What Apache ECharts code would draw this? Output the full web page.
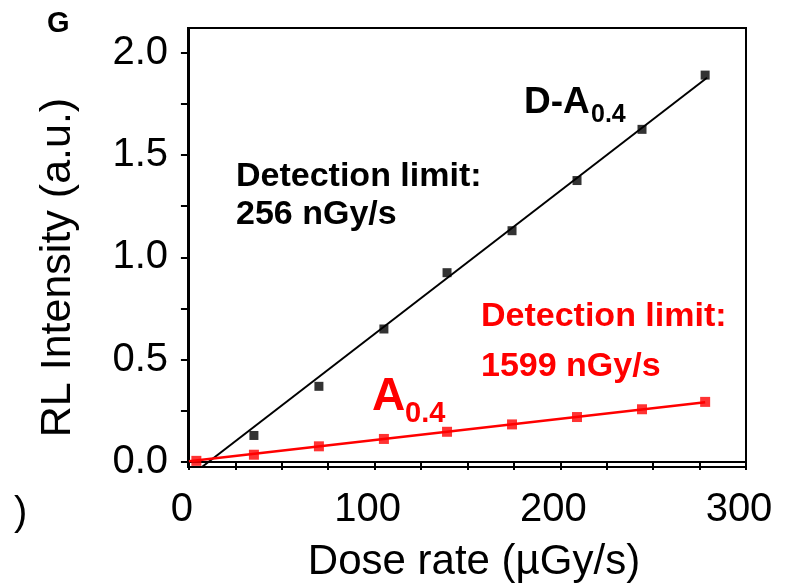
<!DOCTYPE html>
<html>
<head>
<meta charset="utf-8">
<script src="https://cdn.jsdelivr.net/npm/echarts@6/dist/echarts.min.js"></script>
<style>
  html, body { margin: 0; padding: 0; background: #fff; }
  #chart { width: 790px; height: 588px; }
</style>
</head>
<body>
<div id="chart"></div>
<script>
// D-A0.4 measured points
var doseBlack = [35, 70, 105, 139, 174, 209, 244, 278];
var rlBlack = [0.13, 0.37, 0.65, 0.925, 1.13, 1.375, 1.625, 1.89];
// A0.4 measured points
var doseRed = [4, 35, 70, 105, 139, 174, 209, 244, 278];
var rlRed = [0.006, 0.036, 0.077, 0.113, 0.148, 0.184, 0.22, 0.258, 0.294];
// linear fits (end points)
var fitBlackX = [7, 279];
var fitBlackY = [-0.024, 1.877];
var fitRedX = [0, 278];
var fitRedY = [0.004, 0.292];
// ticks
var xTicks = [0, 25, 50, 75, 100, 125, 150, 175, 200, 225, 250, 275, 300];
var xLabels = [0, 100, 200, 300];
var yTicks = [0, 0.25, 0.5, 0.75, 1.0, 1.25, 1.5, 1.75, 2.0];
var yLabels = [0, 0.5, 1.0, 1.5, 2.0];

function pairs(xs, ys) {
  var out = [];
  for (var i = 0; i < xs.length; i++) out.push([xs[i], ys[i]]);
  return out;
}

var FONT = "'Liberation Sans', Arial, sans-serif";
var RED = "#ff0000";

// small helper for the annotation texts
function label(text, x, y, size, color) {
  return {
    type: "text",
    x: x,
    y: y,
    style: {
      text: text,
      fontFamily: FONT,
      fontSize: size,
      fontWeight: "bold",
      fill: color,
      align: "left",
      verticalAlign: "middle",
    },
  };
}

var chart = echarts.init(document.getElementById("chart"));
var option = {
  animation: false,
  backgroundColor: "#fff",
  grid: {
    left: 188,
    right: 44,
    top: 28,
    bottom: 115,
    show: true,
    borderColor: "#000",
    borderWidth: 2,
  },
  xAxis: {
    type: "value",
    min: -0.5,
    max: 300,
    name: "Dose rate (\u00b5Gy/s)",
    nameLocation: "middle",
    nameGap: 74,
    nameTextStyle: { fontFamily: FONT, fontSize: 42, color: "#000", padding: [0, 0, 0, 14] },
    axisLine: { lineStyle: { color: "#000", width: 2 } },
    axisTick: { show: true, length: 8, customValues: xTicks, lineStyle: { color: "#000", width: 2 } },
    axisLabel: {
      customValues: xLabels,
      fontFamily: FONT,
      fontSize: 40,
      color: "#000",
      margin: 23,
      padding: [0, 14, 0, 0],
    },
    splitLine: { show: false },
  },
  yAxis: {
    type: "value",
    min: -0.024,
    max: 2.12,
    name: "RL Intensity (a.u.)",
    nameLocation: "middle",
    nameGap: 108,
    nameTextStyle: { fontFamily: FONT, fontSize: 43, color: "#000", padding: [0, 40, 0, 0] },
    axisLine: { lineStyle: { color: "#000", width: 2 } },
    axisTick: { show: true, length: 8, customValues: yTicks, lineStyle: { color: "#000", width: 2 } },
    axisLabel: {
      customValues: yLabels,
      fontFamily: FONT,
      fontSize: 40,
      color: "#000",
      margin: 20,
      formatter: function (v) { return v.toFixed(1); },
    },
    splitLine: { show: false },
  },
  series: [
    {
      name: "D-A0.4 fit",
      type: "line",
      data: pairs(fitBlackX, fitBlackY),
      showSymbol: false,
      lineStyle: { color: "#000", width: 2 },
      z: 2,
    },
    {
      name: "A0.4 fit",
      type: "line",
      data: pairs(fitRedX, fitRedY),
      showSymbol: false,
      lineStyle: { color: RED, width: 2.5 },
      z: 2,
    },
    {
      name: "D-A0.4",
      type: "scatter",
      data: pairs(doseBlack, rlBlack),
      symbol: "rect",
      symbolSize: 9,
      itemStyle: { color: "#000" },
      z: 3,
    },
    {
      name: "A0.4",
      type: "scatter",
      data: pairs(doseRed, rlRed),
      symbol: "rect",
      symbolSize: 10,
      itemStyle: { color: RED },
      z: 3,
    },
  ],
  graphic: [
    label("G", 47, 24, 29, "#000"),
    {
      type: "text",
      x: 14,
      y: 514,
      style: { text: ")", fontFamily: FONT, fontSize: 40, fill: "#000", align: "left", verticalAlign: "middle" },
    },
    // black annotations
    label("D-A", 524, 103, 37, "#000"),
    label("0.4", 591, 115, 25, "#000"),
    label("Detection limit:", 236, 177, 34, "#000"),
    label("256 nGy/s", 236, 215, 34, "#000"),
    // red annotations
    label("Detection limit:", 481, 317, 34, RED),
    label("1599 nGy/s", 481, 367, 34, RED),
    label("A", 372, 397, 46, RED),
    label("0.4", 405, 414, 29, RED),
  ],
};
chart.setOption(option, true);
</script>
</body>
</html>
